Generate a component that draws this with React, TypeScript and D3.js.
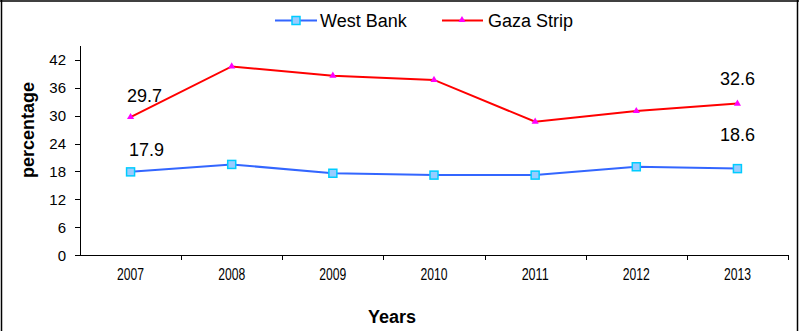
import React from "react";
import * as d3 from "d3";

const years = ["2007", "2008", "2009", "2010", "2011", "2012", "2013"];
const westBank = [17.9, 19.5, 17.6, 17.2, 17.2, 19.0, 18.6];
const gazaStrip = [29.7, 40.6, 38.6, 37.7, 28.7, 31.0, 32.6];
const yTicks = [0, 6, 12, 18, 24, 30, 36, 42];
const seriesNames = ["West Bank", "Gaza Strip"];

// data labels: which series, which year index, and the value shown
const labelSeries = ["gaza", "wb", "gaza", "wb"];
const labelIndex = [0, 0, 6, 6];
const labelText = ["29.7", "17.9", "32.6", "18.6"];

const W = 799;
const H = 331;
const FONT = "'Liberation Sans', Arial, sans-serif";

export default function App() {
  const x0 = 80, x1 = 788, yTop = 46, yBot = 255;
  const x = d3.scaleBand<string>().domain(years).range([x0, x1]);
  const y = d3.scaleLinear().domain([0, 45]).range([yBot, yTop]);
  const cx = (d: string) => (x(d) as number) + x.bandwidth() / 2;

  const line = d3
    .line<number>()
    .x((_, i) => cx(years[i]))
    .y((v) => y(v));

  const tri = d3.symbol().type(d3.symbolTriangle).size(22)() as string;

  // label offsets (dx, dy of baseline relative to point)
  const labelDx = [14, 16, 0, 0];
  const labelDy = [-15, -16, -19, -28];

  return (
    <svg
      width={W}
      height={H}
      style={{ position: "absolute", left: 0, top: 0, background: "#fff" }}
      fontFamily={FONT}
    >
      {/* outer border */}
      <line x1={1.5} y1={0} x2={1.5} y2={H} stroke="#000" strokeWidth={1.5} />
      <line x1={0} y1={1} x2={W} y2={1} stroke="#000" strokeWidth={1.5} />
      <line x1={797.5} y1={0} x2={797.5} y2={H} stroke="#000" strokeWidth={1.5} />

      {/* legend */}
      <g>
        <line x1={275} y1={20.5} x2={317} y2={20.5} stroke="#3366FF" strokeWidth={2} />
        <rect x={292} y={16.5} width={8} height={8} fill="#99CCFF" stroke="#00CCFF" strokeWidth={1.5} />
        <text x={320} y={27} fontSize={18} fill="#000">{seriesNames[0]}</text>
        <line x1={442} y1={20.5} x2={483} y2={20.5} stroke="#FF0000" strokeWidth={2} />
        <path d={tri} transform="translate(462,20)" fill="#FF00FF" />
        <text x={488} y={27} fontSize={18} fill="#000">{seriesNames[1]}</text>
      </g>

      {/* y axis */}
      <line x1={x0 + 0.5} y1={yTop} x2={x0 + 0.5} y2={yBot} stroke="#000" />
      {yTicks.map((t) => (
        <g key={t}>
          <line x1={x0 - 5} x2={x0} y1={Math.round(y(t)) + 0.5} y2={Math.round(y(t)) + 0.5} stroke="#000" />
          <text x={x0 - 14} y={y(t) + 5.5} fontSize={15} textAnchor="end" fill="#000">
            {t}
          </text>
        </g>
      ))}

      {/* x axis */}
      <line x1={x0} y1={yBot + 0.5} x2={x1} y2={yBot + 0.5} stroke="#000" />
      {years.map((yr) => (
        <g key={yr}>
          <line
            x1={Math.round((x(yr) as number) + x.bandwidth()) + 0.5}
            x2={Math.round((x(yr) as number) + x.bandwidth()) + 0.5}
            y1={yBot}
            y2={yBot + 5}
            stroke="#000"
          />
          <text
            x={cx(yr)}
            y={280}
            fontSize={16}
            textAnchor="middle"
            textLength={27}
            lengthAdjust="spacingAndGlyphs"
            fill="#000"
          >
            {yr}
          </text>
        </g>
      ))}

      {/* axis titles */}
      <text x={392} y={323} fontSize={18} fontWeight="bold" textAnchor="middle" fill="#000">
        Years
      </text>
      <text
        transform="translate(34,130) rotate(-90)"
        fontSize={18}
        fontWeight="bold"
        textAnchor="middle"
        fill="#000"
      >
        percentage
      </text>

      {/* series lines */}
      <path d={line(gazaStrip) as string} fill="none" stroke="#FF0000" strokeWidth={2} />
      <path d={line(westBank) as string} fill="none" stroke="#3366FF" strokeWidth={2} />

      {/* markers */}
      {gazaStrip.map((v, i) => (
        <path key={"g" + i} d={tri} transform={`translate(${cx(years[i])},${y(v)})`} fill="#FF00FF" />
      ))}
      {westBank.map((v, i) => (
        <rect
          key={"w" + i}
          x={cx(years[i]) - 4}
          y={y(v) - 4}
          width={8}
          height={8}
          fill="#99CCFF"
          stroke="#00CCFF"
          strokeWidth={1.5}
        />
      ))}

      {/* data labels */}
      {labelText.map((t, k) => {
        const arr = labelSeries[k] === "gaza" ? gazaStrip : westBank;
        const i = labelIndex[k];
        return (
          <text
            key={"l" + k}
            x={cx(years[i]) + labelDx[k]}
            y={y(arr[i]) + labelDy[k]}
            fontSize={18}
            textAnchor="middle"
            fill="#000"
          >
            {t}
          </text>
        );
      })}
    </svg>
  );
}
